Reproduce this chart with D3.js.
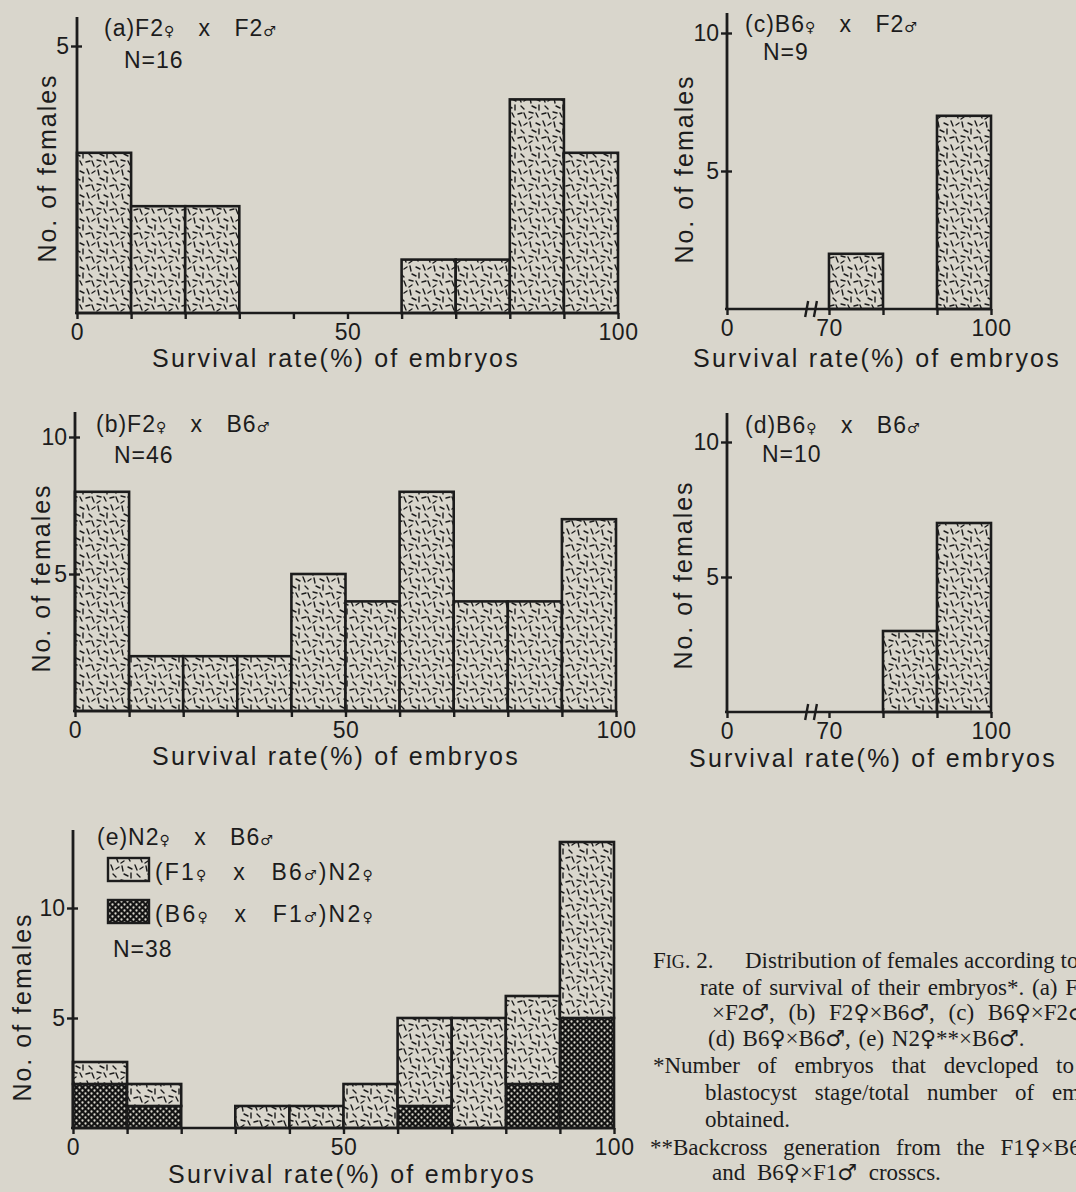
<!DOCTYPE html>
<html>
<head>
<meta charset="utf-8">
<script src="https://cdn.jsdelivr.net/npm/d3@7"></script>
<style>
  body { margin: 0; background: #d9d6cc; }
  svg { display: block; }
  text { fill: #1c1c1c; }
</style>
</head>
<body>
<svg id="fig" width="1076" height="1192"></svg>
<script>
// histogram bins are 10% wide, keyed by their lower edge
var bins = [0, 10, 20, 30, 40, 50, 60, 70, 80, 90];
var countsA = [3, 2, 2, 0, 0, 0, 1, 1, 4, 3];
var countsB = [8, 2, 2, 2, 5, 4, 8, 4, 4, 7];
var binsC = [70, 90];
var countsC = [2, 7];
var binsD = [80, 90];
var countsD = [3, 7];
// panel (e), stacked: backcross origin of the N2 females
var f1xb6 = [1, 1, 0, 1, 1, 2, 4, 5, 4, 8];   // (F1♀ x B6♂)N2♀
var b6xf1 = [2, 1, 0, 0, 0, 0, 1, 0, 2, 5];   // (B6♀ x F1♂)N2♀

var xTicksFull = [0, 10, 20, 30, 40, 50, 60, 70, 80, 90, 100];
var xLabelsFull = [0, 50, 100];
var xTicksBroken = [0, 70, 80, 90, 100];
var xLabelsBroken = [0, 70, 100];
var breakMarks = [55, 61];

var titles = ["(a)F2♀ x F2♂", "(b)F2♀ x B6♂", "(c)B6♀ x F2♂", "(d)B6♀ x B6♂", "(e)N2♀ x B6♂"];
var nLabels = ["N=16", "N=46", "N=9", "N=10", "N=38"];
var legendLabels = ["(F1♀ x B6♂)N2♀", "(B6♀ x F1♂)N2♀"];
var xTitle = "Survival rate(%) of embryos";
var yTitle = "No. of females";

var ink = "#1c1c1c", paper = "#d9d6cc";
var sans = "'Liberation Sans', Arial, sans-serif";
var serif = "'Liberation Serif', 'Times New Roman', serif";

var svg = d3.select("#fig");
svg.append("rect").attr("width", 1076).attr("height", 1192).attr("fill", paper);

// fill textures
var defs = svg.append("defs");
var dash = defs.append("pattern").attr("id", "dash")
    .attr("patternUnits", "userSpaceOnUse").attr("width", 24).attr("height", 24);
dash.append("rect").attr("width", 24).attr("height", 24).attr("fill", paper);
[[2,2,3,7],[8,3,12,5],[15,1,17,6],[20,5,23,3],[4,10,8,12],[11,9,11,14],
 [17,10,20,13],[1,16,5,17],[8,17,10,21],[14,18,18,17],[20,17,22,22],[4,21,1,23]]
  .forEach(function (s) {
    dash.append("line").attr("x1", s[0]).attr("y1", s[1]).attr("x2", s[2]).attr("y2", s[3])
        .attr("stroke", ink).attr("stroke-width", 1.4).attr("stroke-linecap", "round");
  });
var dots = defs.append("pattern").attr("id", "dots")
    .attr("patternUnits", "userSpaceOnUse").attr("width", 6).attr("height", 6);
dots.append("rect").attr("width", 6).attr("height", 6).attr("fill", "#141414");
[[1.5,1.5],[4.5,4.5]].forEach(function (c) {
  dots.append("circle").attr("cx", c[0]).attr("cy", c[1]).attr("r", 1.15).attr("fill", paper);
});

// text with small sex symbols
function rich(sel, str, symSize) {
  str.split(/([♀♂])/).forEach(function (p) {
    if (!p) return;
    var t = sel.append("tspan").text(p);
    if (p === "♀" || p === "♂") t.attr("font-size", symSize).attr("font-family", "'DejaVu Sans', sans-serif");
  });
  return sel;
}

function panel(o) {
  var g = svg.append("g");
  var x = d3.scaleLinear().domain(o.xDomain).range(o.xRange);
  var y = d3.scaleLinear().domain(o.yDomain).range(o.yRange);
  var base = y(0);

  if (o.stack) {
    var series = d3.stack().keys(["b6xf1", "f1xb6"])(o.stack);
    var fills = { b6xf1: "url(#dots)", f1xb6: "url(#dash)" };
    series.forEach(function (s) {
      g.append("g").selectAll("rect")
        .data(s.filter(function (d) { return d[1] > d[0]; }))
        .join("rect")
          .attr("x", function (d) { return x(d.data.bin); })
          .attr("width", function (d) { return x(d.data.bin + 10) - x(d.data.bin); })
          .attr("y", function (d) { return y(d[1]); })
          .attr("height", function (d) { return y(d[0]) - y(d[1]); })
          .attr("fill", fills[s.key])
          .attr("stroke", ink).attr("stroke-width", 2.6);
    });
  } else {
    g.append("g").selectAll("rect")
      .data(o.data.filter(function (d) { return d.n > 0; }))
      .join("rect")
        .attr("x", function (d) { return x(d.bin); })
        .attr("width", function (d) { return x(d.bin + 10) - x(d.bin); })
        .attr("y", function (d) { return y(d.n); })
        .attr("height", function (d) { return base - y(d.n); })
        .attr("fill", "url(#dash)")
        .attr("stroke", ink).attr("stroke-width", 2.6);
  }

  // x axis
  var xa = g.append("g").attr("transform", "translate(0," + base + ")")
    .call(d3.axisBottom(x).tickValues(o.xTicks).tickSize(6).tickPadding(5)
      .tickFormat(function (d) { return o.xLabels.indexOf(d) >= 0 ? d : ""; }));
  xa.select(".domain").remove();
  xa.attr("font-size", 23).attr("font-family", sans);
  xa.selectAll("line").attr("stroke", ink).attr("stroke-width", 2.4);
  xa.selectAll("text").attr("letter-spacing", 0.5);
  g.append("line").attr("x1", x(0) - 2).attr("x2", x(100) + 1).attr("y1", base).attr("y2", base)
    .attr("stroke", ink).attr("stroke-width", 2.6);
  if (o.broken) {
    breakMarks.forEach(function (v) {
      g.append("line").attr("x1", x(v) - 2).attr("x2", x(v) + 1)
        .attr("y1", base + 8).attr("y2", base - 8)
        .attr("stroke", ink).attr("stroke-width", 2.4);
    });
  }

  // y axis
  var ya = g.append("g").attr("transform", "translate(" + x(0) + ",0)")
    .call(d3.axisLeft(y).tickValues(o.yTicks).tickSize(6).tickPadding(2).tickFormat(d3.format("d")));
  ya.select(".domain").remove();
  ya.attr("font-size", 23).attr("font-family", sans);
  ya.selectAll("line").attr("x1", 5).attr("stroke", ink).attr("stroke-width", 2.4);
  g.append("line").attr("x1", x(0)).attr("x2", x(0)).attr("y1", o.yTop).attr("y2", base + 1)
    .attr("stroke", ink).attr("stroke-width", 2.8);

  // labels
  rich(g.append("text").attr("x", o.title[0]).attr("y", o.title[1])
    .attr("font-family", sans).attr("font-size", 23).attr("letter-spacing", 1).attr("word-spacing", 16),
    o.titleText, 14);
  g.append("text").attr("x", o.n[0]).attr("y", o.n[1])
    .attr("font-family", sans).attr("font-size", 23).attr("letter-spacing", 1)
    .text(o.nText);
  g.append("text").attr("x", o.xt[0]).attr("y", o.xt[1]).attr("text-anchor", "middle")
    .attr("font-family", sans).attr("font-size", 25).attr("letter-spacing", 2.2)
    .text(xTitle);
  g.append("text").attr("transform", "translate(" + o.yt[0] + "," + o.yt[1] + ") rotate(-90)")
    .attr("text-anchor", "middle")
    .attr("font-family", sans).attr("font-size", 25).attr("letter-spacing", 2)
    .text(yTitle);
  return { g: g, x: x, y: y };
}

function rows(binList, counts) {
  return binList.map(function (b, i) { return { bin: b, n: counts[i] }; });
}

panel({ data: rows(bins, countsA), xDomain: [0, 100], xRange: [77, 618], yDomain: [0, 5], yRange: [313, 46],
  yTop: 17, yTicks: [5], xTicks: xTicksFull, xLabels: xLabelsFull,
  title: [104, 36], titleText: titles[0], n: [124, 68], nText: nLabels[0],
  xt: [336, 367], yt: [56, 168] });

panel({ data: rows(bins, countsB), xDomain: [0, 100], xRange: [75, 616], yDomain: [0, 10], yRange: [711, 437],
  yTop: 412, yTicks: [5, 10], xTicks: xTicksFull, xLabels: xLabelsFull,
  title: [96, 432], titleText: titles[1], n: [114, 463], nText: nLabels[1],
  xt: [336, 765], yt: [50, 578] });

panel({ data: rows(binsC, countsC), xDomain: [0, 70, 100], xRange: [727, 829, 991], yDomain: [0, 10], yRange: [309, 33],
  yTop: 13, yTicks: [5, 10], xTicks: xTicksBroken, xLabels: xLabelsBroken, broken: true,
  title: [745, 32], titleText: titles[2], n: [763, 60], nText: nLabels[2],
  xt: [877, 367], yt: [693, 169] });

panel({ data: rows(binsD, countsD), xDomain: [0, 70, 100], xRange: [727, 829, 991], yDomain: [0, 10], yRange: [712, 442],
  yTop: 413, yTicks: [5, 10], xTicks: xTicksBroken, xLabels: xLabelsBroken, broken: true,
  title: [745, 433], titleText: titles[3], n: [762, 462], nText: nLabels[3],
  xt: [873, 767], yt: [692, 575] });

var tableE = bins.map(function (b, i) { return { bin: b, f1xb6: f1xb6[i], b6xf1: b6xf1[i] }; });
var pe = panel({ stack: tableE, xDomain: [0, 100], xRange: [73, 614], yDomain: [0, 10], yRange: [1128, 908],
  yTop: 830, yTicks: [5, 10], xTicks: xTicksFull, xLabels: xLabelsFull,
  title: [97, 845], titleText: titles[4], n: [113, 957], nText: nLabels[4],
  xt: [352, 1183], yt: [31, 1007] });

// legend of panel (e)
[{ fill: "url(#dash)", y: 858, yt: 880 }, { fill: "url(#dots)", y: 900, yt: 922 }].forEach(function (l, i) {
  pe.g.append("rect").attr("x", 108).attr("y", l.y).attr("width", 41).attr("height", 23)
    .attr("fill", l.fill).attr("stroke", ink).attr("stroke-width", 2.4);
  rich(pe.g.append("text").attr("x", 155).attr("y", l.yt)
    .attr("font-family", sans).attr("font-size", 23).attr("letter-spacing", 2.2).attr("word-spacing", 16),
    legendLabels[i], 14);
});

// caption (runs past the right edge, as on the printed page)
var cap = svg.append("g").attr("font-family", serif).attr("font-size", 23);
var l1 = cap.append("text").attr("x", 653).attr("y", 968);
l1.append("tspan").text("F");
l1.append("tspan").attr("font-size", 18).text("IG");
l1.append("tspan").text(". 2.");
l1.append("tspan").attr("x", 745).text("Distribution of females according to");
var captionLines = [
  { x: 700, y: 995, ws: 2, t: "rate of survival of their embryos*.   (a) F2♀" },
  { x: 712, y: 1020, ws: 8, t: "×F2♂, (b) F2♀×B6♂, (c) B6♀×F2♂," },
  { x: 708, y: 1046, ws: 2, t: "(d) B6♀×B6♂, (e) N2♀**×B6♂." },
  { x: 653, y: 1073, ws: 12, t: "*Number of embryos that devcloped to" },
  { x: 705, y: 1100, ws: 12, t: "blastocyst stage/total number of embryos" },
  { x: 705, y: 1127, ws: 0, t: "obtained." },
  { x: 650, y: 1155, ws: 10, t: "**Backcross generation from the F1♀×B6♂" },
  { x: 712, y: 1180, ws: 6, t: "and B6♀×F1♂ crosscs." }
];
captionLines.forEach(function (c) {
  rich(cap.append("text").attr("x", c.x).attr("y", c.y).attr("word-spacing", c.ws), c.t, 22);
});
</script>
</body>
</html>
